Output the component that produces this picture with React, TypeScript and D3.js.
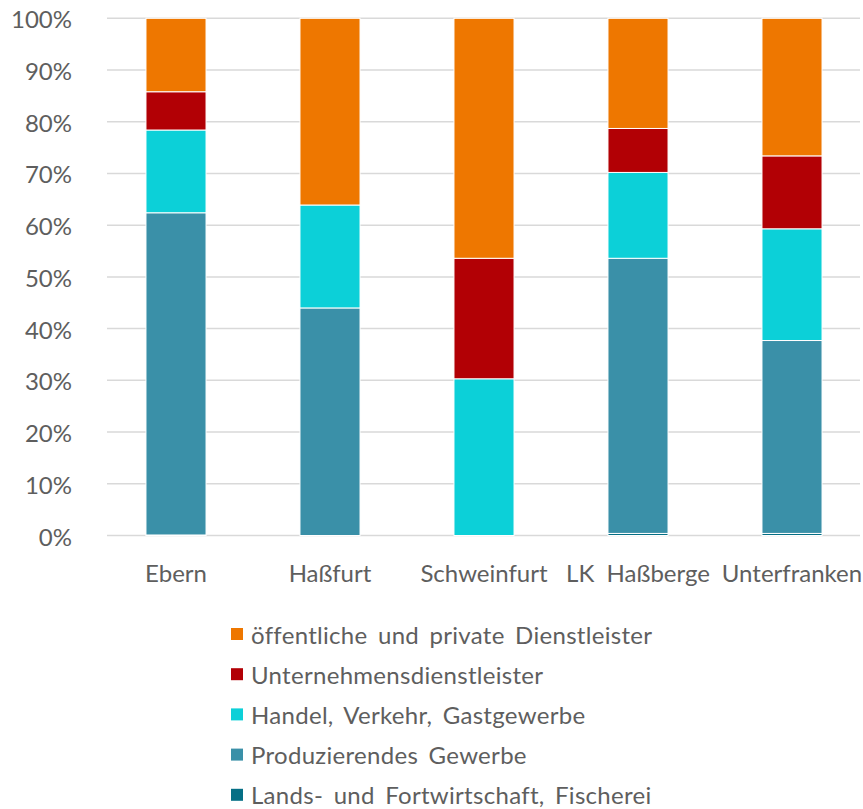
import React from "react";
import * as d3 from "d3";

// Regions shown along the x axis
const regions = ["Ebern", "Haßfurt", "Schweinfurt", "LK  Haßberge", "Unterfranken"];

// Sector shares in percent, bottom to top of each stack
const landwirtschaft = [0.1, 0.0, 0.0, 0.4, 0.4];
const produzierend = [62.3, 44.0, 0.0, 53.2, 37.3];
const handel = [16.0, 19.9, 30.3, 16.6, 21.6];
const unternehmensDL = [7.4, 0.0, 23.3, 8.5, 14.1];
const oeffentlichDL = [14.2, 36.1, 46.4, 21.3, 26.6];

const seriesNames = [
  "Lands- und Fortwirtschaft, Fischerei",
  "Produzierendes Gewerbe",
  "Handel, Verkehr, Gastgewerbe",
  "Unternehmensdienstleister",
  "öffentliche und private Dienstleister",
];
const seriesValues = [landwirtschaft, produzierend, handel, unternehmensDL, oeffentlichDL];
const seriesColors = ["#056F85", "#3A90A8", "#0CD0D8", "#B20005", "#EE7700"];

const yTicks = [0, 10, 20, 30, 40, 50, 60, 70, 80, 90, 100];

const W = 863;
const H = 809;
const plot = { left: 99, right: 869, top: 18.3, bottom: 535.5 };
const font = "Lato, 'Open Sans', sans-serif";
const textColor = "#5E5E5E";

export default function App() {
  const x = d3
    .scaleBand<string>()
    .domain(regions)
    .range([plot.left, plot.right])
    .paddingInner(0.61)
    .paddingOuter(0.305);
  const y = d3.scaleLinear().domain([0, 100]).range([plot.bottom, plot.top]);

  const rows = regions.map((r, i) => {
    const obj: Record<string, number | string> = { region: r };
    seriesNames.forEach((s, k) => (obj[s] = seriesValues[k][i]));
    return obj;
  });
  const stacked = d3.stack<Record<string, number | string>>().keys(seriesNames)(rows as any);

  const legendOrder = [4, 3, 2, 1, 0];

  return (
    <svg
      width={W}
      height={H}
      style={{ position: "absolute", left: 0, top: 0, background: "#fff" }}
      fontFamily={font}
    >
      {yTicks.map((t) => (
        <g key={t}>
          <line
            x1={plot.left + 8}
            x2={W - 3}
            y1={y(t)}
            y2={y(t)}
            stroke="#D9D9D9"
            strokeWidth={1.5}
          />
          <text
            x={72}
            y={y(t) + 0.5}
            textAnchor="end"
            dominantBaseline="central"
            fontSize={24}
            fill={textColor}
          >
            {t}%
          </text>
        </g>
      ))}

      {stacked.map((layer, k) => (
        <g key={seriesNames[k]} fill={seriesColors[k]}>
          {layer.map((d, i) => {
            const h = y(d[0]) - y(d[1]);
            if (h <= 0) return null;
            return (
              <rect
                key={regions[i]}
                x={x(regions[i])}
                y={y(d[1])}
                width={x.bandwidth()}
                height={h}
                stroke="#fff"
                strokeWidth={1}
              />
            );
          })}
        </g>
      ))}

      {regions.map((r) => (
        <text
          key={r}
          x={(x(r) as number) + x.bandwidth() / 2}
          y={572.5}
          textAnchor="middle"
          dominantBaseline="central"
          fontSize={24}
          fill={textColor}
          style={{ whiteSpace: "pre" }}
        >
          {r}
        </text>
      ))}

      {legendOrder.map((k, j) => {
        const cy = 634 + j * 40.2;
        return (
          <g key={seriesNames[k]}>
            <rect x={231} y={cy - 6} width={12} height={12} fill={seriesColors[k]} />
            <text
              x={251}
              y={cy}
              dominantBaseline="central"
              fontSize={24}
              fill={textColor}
              letterSpacing={0.3}
              wordSpacing={4}
            >
              {seriesNames[k]}
            </text>
          </g>
        );
      })}
    </svg>
  );
}
